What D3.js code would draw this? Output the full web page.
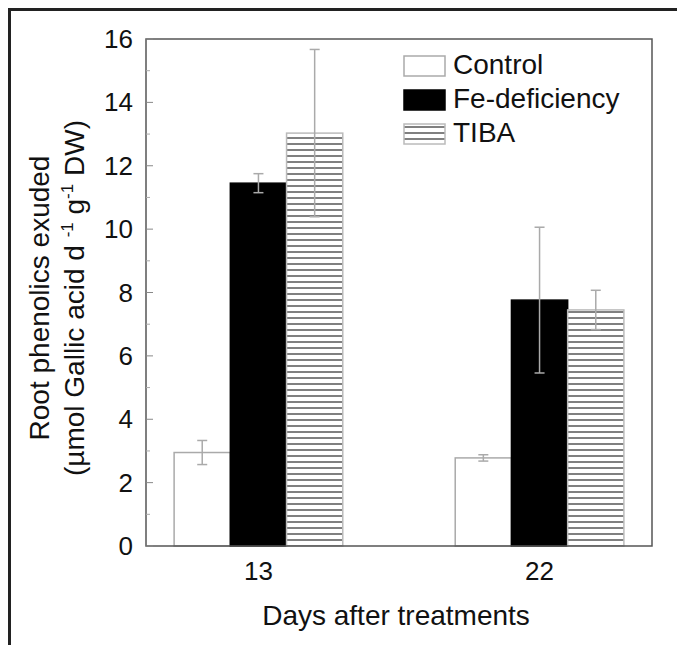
<!DOCTYPE html>
<html>
<head>
<meta charset="utf-8">
<script src="https://cdn.jsdelivr.net/npm/d3@7"></script>
<style>
  body { margin: 0; background: #fff; }
  text { font-family: "Liberation Sans", Arial, sans-serif; fill: #111; }
</style>
</head>
<body>
<div id="chart"></div>
<script>
// Data
const days = ["13", "22"];
const treatments = ["Control", "Fe-deficiency", "TIBA"];
const controlMean = [2.95, 2.78];
const feMean = [11.45, 7.76];
const tibaMean = [13.03, 7.45];
const controlErr = [0.38, 0.1];
const feErr = [0.3, 2.3];
const tibaErr = [2.64, 0.62];
const yTicks = [0, 2, 4, 6, 8, 10, 12, 14, 16];
const yMinorTicks = [1, 3, 5, 7, 9, 11, 13, 15];

const width = 677, height = 645;
const margin = { left: 146, top: 39, right: 25, bottom: 99 };
const innerW = width - margin.left - margin.right;
const innerH = height - margin.top - margin.bottom;

const means = [controlMean, feMean, tibaMean];
const errs = [controlErr, feErr, tibaErr];
const rows = [];
days.forEach((day, i) => {
  treatments.forEach((t, j) => {
    rows.push({ day: day, treatment: t, value: means[j][i], err: errs[j][i] });
  });
});

const svg = d3.select("#chart")
  .append("svg")
    .attr("width", width)
    .attr("height", height);

// hatch pattern for TIBA
const defs = svg.append("defs");
const pat = defs.append("pattern")
    .attr("id", "hatch")
    .attr("patternUnits", "userSpaceOnUse")
    .attr("width", 8)
    .attr("height", 6);
pat.append("rect").attr("width", 8).attr("height", 6).attr("fill", "#fff");
pat.append("line")
    .attr("x1", 0).attr("x2", 8).attr("y1", 3).attr("y2", 3)
    .attr("stroke", "#555").attr("stroke-width", 1.5);

// outer border (top + left only)
svg.append("path")
    .attr("d", "M9.5,645 L9.5,9.5 L677,9.5")
    .attr("fill", "none")
    .attr("stroke", "#222")
    .attr("stroke-width", 3);

const g = svg.append("g")
    .attr("transform", `translate(${margin.left}, ${margin.top})`);

const x0 = d3.scaleBand()
    .domain(days)
    .range([0, innerW])
    .paddingInner(0.4)
    .paddingOuter(0.1);
const x1 = d3.scaleBand()
    .domain(treatments)
    .range([0, x0.bandwidth()]);
const y = d3.scaleLinear()
    .domain([0, 16])
    .range([innerH, 0]);

const fills = { "Control": "#fff", "Fe-deficiency": "#000", "TIBA": "url(#hatch)" };
const strokes = { "Control": "#aaa", "Fe-deficiency": "#000", "TIBA": "#bbb" };

// bars
g.selectAll(".bar")
  .data(rows)
  .join("rect")
    .attr("class", "bar")
    .attr("x", d => x0(d.day) + x1(d.treatment))
    .attr("y", d => y(d.value))
    .attr("width", x1.bandwidth())
    .attr("height", d => innerH - y(d.value))
    .attr("fill", d => fills[d.treatment])
    .attr("stroke", d => strokes[d.treatment])
    .attr("stroke-width", 1.5);

// error bars
const eb = g.selectAll(".err")
  .data(rows)
  .join("g")
    .attr("class", "err")
    .attr("transform", d => `translate(${x0(d.day) + x1(d.treatment) + x1.bandwidth() / 2}, 0)`);
eb.append("line")
    .attr("y1", d => y(d.value + d.err))
    .attr("y2", d => y(d.value - d.err));
eb.append("line")
    .attr("x1", -5).attr("x2", 5)
    .attr("y1", d => y(d.value + d.err))
    .attr("y2", d => y(d.value + d.err));
eb.append("line")
    .attr("x1", -5).attr("x2", 5)
    .attr("y1", d => y(d.value - d.err))
    .attr("y2", d => y(d.value - d.err));
eb.selectAll("line")
    .attr("stroke", "#aaa")
    .attr("stroke-width", 1.5);

// frame
g.append("rect")
    .attr("width", innerW)
    .attr("height", innerH)
    .attr("fill", "none")
    .attr("stroke", "#555")
    .attr("stroke-width", 1.5);

// y axis ticks (inside)
g.selectAll(".ytick")
  .data(yTicks)
  .join("line")
    .attr("x1", 0).attr("x2", 7)
    .attr("y1", d => y(d)).attr("y2", d => y(d))
    .attr("stroke", "#888");
g.selectAll(".yminor")
  .data(yMinorTicks)
  .join("line")
    .attr("x1", 0).attr("x2", 4)
    .attr("y1", d => y(d)).attr("y2", d => y(d))
    .attr("stroke", "#aaa");
g.selectAll(".ylab")
  .data(yTicks)
  .join("text")
    .text(d => d)
    .attr("x", -13)
    .attr("y", d => y(d))
    .attr("text-anchor", "end")
    .attr("dy", "0.35em")
    .style("font-size", "26px");

// x labels
g.selectAll(".xlab")
  .data(days)
  .join("text")
    .text(d => d)
    .attr("x", d => x0(d) + x0.bandwidth() / 2)
    .attr("y", innerH + 34)
    .attr("text-anchor", "middle")
    .style("font-size", "26px");

// axis titles
svg.append("text")
    .text("Days after treatments")
    .attr("x", 396)
    .attr("y", 625)
    .attr("text-anchor", "middle")
    .style("font-size", "28px");

const yTitle = svg.append("text")
    .attr("transform", "translate(49, 298) rotate(-90)")
    .attr("text-anchor", "middle")
    .style("font-size", "28px");
yTitle.append("tspan").attr("x", 0).attr("dy", 0).text("Root phenolics exuded");
const l2 = yTitle.append("tspan").attr("x", 0).attr("dy", 35);
l2.append("tspan").text("(\u00b5mol Gallic acid d ");
l2.append("tspan").text("-1").attr("dy", -11).style("font-size", "17px");
l2.append("tspan").text(" g").attr("dy", 11);
l2.append("tspan").text("-1").attr("dy", -11).style("font-size", "17px");
l2.append("tspan").text(" DW)").attr("dy", 11);

// legend
const legend = svg.append("g")
    .attr("transform", "translate(404, 56)");
const items = legend.selectAll("g")
  .data(treatments)
  .join("g")
    .attr("transform", (d, i) => `translate(0, ${i * 34})`);
items.append("rect")
    .attr("width", 41)
    .attr("height", 20)
    .attr("fill", d => fills[d])
    .attr("stroke", d => strokes[d])
    .attr("stroke-width", 1.5);
items.append("text")
    .text(d => d)
    .attr("x", 49)
    .attr("y", 17.5)
    .style("font-size", "28px");
</script>
</body>
</html>
